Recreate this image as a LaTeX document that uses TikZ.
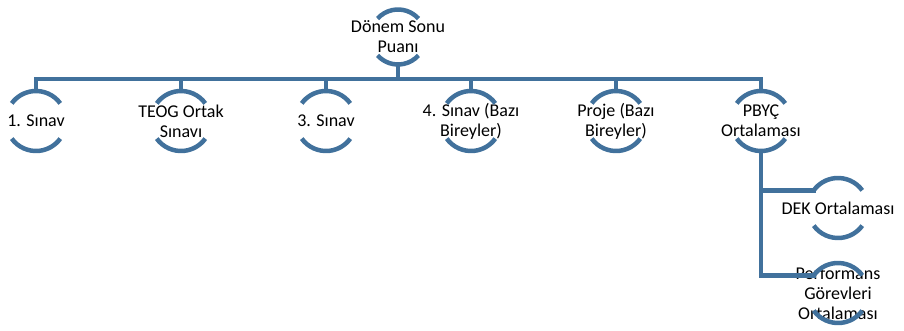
\documentclass[tikz,border=0pt]{standalone}
\usepackage{fontspec}
\setmainfont{Carlito}
\usetikzlibrary{calc}
\definecolor{sablue}{HTML}{41719C}
\newcommand{\ringarcs}[3]{%
  \draw[arcline] (#1.center) ++(#3:#2) arc[start angle=#3, end angle=180-#3, radius=#2];
  \draw[arcline] (#1.center) ++(180+#3:#2) arc[start angle=180+#3, end angle=360-#3, radius=#2];}
\begin{document}
\begin{tikzpicture}[x=1pt,y=1pt,
  arcline/.style={draw=sablue, line width=4.5pt},
  conn/.style={draw=sablue, line width=4.5pt, line cap=rect},
  lbl/.style={align=center, inner sep=0pt, font=\fontsize{18}{20}\selectfont, text=black}]
\useasboundingbox (0,0) rectangle (904,330);
% nodes
\node[lbl] (top) at (398,293) {Dönem Sonu\\Puanı};
\node[lbl] (c1) at (36,209) {1. Sınav};
\node[lbl] (c2) at (181,209) {TEOG Ortak\\Sınavı};
\node[lbl] (c3) at (326,209) {3. Sınav};
\node[lbl] (c4) at (471,209) {4. Sınav (Bazı\\Bireyler)};
\node[lbl] (c5) at (616,209) {Proje (Bazı\\Bireyler)};
\node[lbl] (c6) at (761,209) {PBYÇ\\Ortalaması};
\node[lbl] (d1) at (838,122) {DEK Ortalaması};
\node[lbl] (d2) at (838,37) {Performans\\Görevleri\\Ortalaması};
% arcs
\ringarcs{top}{27.5}{42}
\foreach \n in {c1,c2,c3,c4,c5,c6}{\ringarcs{\n}{30}{36}}
\ringarcs{d1}{30}{36}
\ringarcs{d2}{30}{36}
% connectors
\coordinate (bar) at (398,251);
\coordinate (b1) at ($(d1.center)+(144:30)$);
\coordinate (b2) at ($(d2.center)+(144:30)$);
\draw[conn] ([yshift=-27.5pt]top.center) -- (bar);
\draw[conn] ([yshift=30pt]c1.center) |- (c6.center |- bar) -- ([yshift=30pt]c6.center);
\foreach \n in {c2,c3,c4,c5}{\draw[conn] (\n.center |- bar) -- ([yshift=30pt]\n.center);}
\draw[conn] ([yshift=-30pt]c6.center) |- (b2);
\draw[conn] (c6.center |- b1) -- (b1);
\end{tikzpicture}
\end{document}
